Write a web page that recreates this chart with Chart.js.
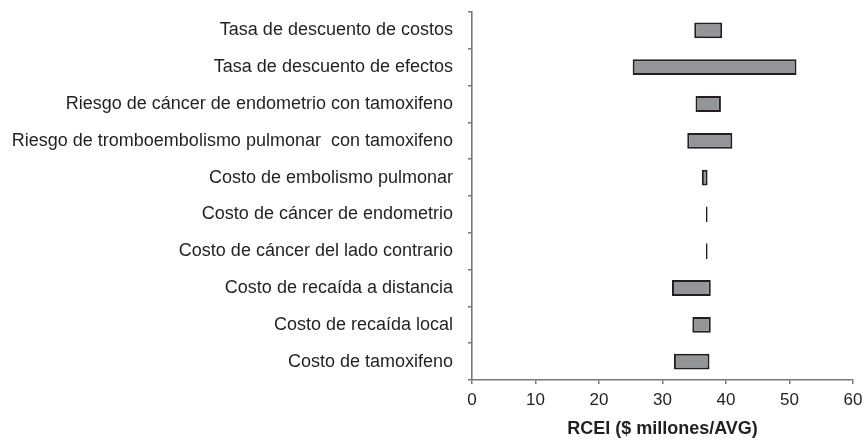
<!DOCTYPE html>
<html>
<head>
<meta charset="utf-8">
<script src="https://cdn.jsdelivr.net/npm/chart.js@4.4.0/dist/chart.umd.min.js"></script>
<style>
  html, body { margin: 0; padding: 0; background: #ffffff; }
  #wrap { width: 866px; height: 440px; position: relative; }
</style>
</head>
<body>
<div id="wrap"><canvas id="c"></canvas></div>
<script>
const categories = [
  "Tasa de descuento de costos",
  "Tasa de descuento de efectos",
  "Riesgo de cáncer de endometrio con tamoxifeno",
  "Riesgo de tromboembolismo pulmonar  con tamoxifeno",
  "Costo de embolismo pulmonar",
  "Costo de cáncer de endometrio",
  "Costo de cáncer del lado contrario",
  "Costo de recaída a distancia",
  "Costo de recaída local",
  "Costo de tamoxifeno"
];
const lowValues  = [35.0, 25.3, 35.2, 33.9, 36.2, 36.85, 36.85, 31.5, 34.7, 31.8];
const highValues = [39.4, 51.1, 39.2, 41.0, 37.1, 37.1, 37.1, 37.6, 37.6, 37.4];
const xTicks = [0, 10, 20, 30, 40, 50, 60];
const xTitle = "RCEI ($ millones/AVG)";

const ranges = categories.map((_, i) => [lowValues[i], highValues[i]]);
const textColor = "#231f20";
const axisColor = "#77787b";
const fam = "Liberation Sans, Arial, sans-serif";

new Chart(document.getElementById("c"), {
  type: "bar",
  data: {
    labels: categories,
    datasets: [{
      data: ranges,
      backgroundColor: "#939598",
      borderColor: "#231f20",
      borderWidth: 2,
      borderSkipped: false,
      barPercentage: 0.86,
      categoryPercentage: 0.5
    }]
  },
  options: {
    indexAxis: "y",
    responsive: true,
    maintainAspectRatio: false,
    animation: false,
    layout: { padding: { top: 12, right: 13, bottom: 0, left: 0 } },
    plugins: { legend: { display: false }, tooltip: { enabled: false } },
    scales: {
      x: {
        type: "linear",
        min: 0, max: 60,
        afterBuildTicks: (s) => { s.ticks = xTicks.map(v => ({ value: v })); },
        afterFit: (s) => { s.height = 60; s.paddingLeft = 0; s.paddingRight = 0; },
        ticks: { color: textColor, font: { family: fam, size: 17 }, padding: 6, maxRotation: 0 },
        grid: { display: true, drawOnChartArea: false, drawTicks: true, tickLength: 4, color: axisColor, lineWidth: 1.5 },
        border: { display: true, color: axisColor, width: 1.6 },
        title: { display: true, text: xTitle, color: textColor, padding: { top: 0, bottom: 0 },
                 font: { family: fam, size: 18, weight: "bold" } }
      },
      y: {
        afterFit: (s) => { s.width = 472; s.paddingTop = 0; s.paddingBottom = 0; },
        ticks: { color: textColor, font: { family: fam, size: 18 }, padding: 15, autoSkip: false },
        grid: { display: true, offset: true, drawOnChartArea: false, drawTicks: true, tickLength: 4, color: axisColor, lineWidth: 1.5 },
        border: { display: true, color: axisColor, width: 1.6 }
      }
    }
  }
});
</script>
</body>
</html>
